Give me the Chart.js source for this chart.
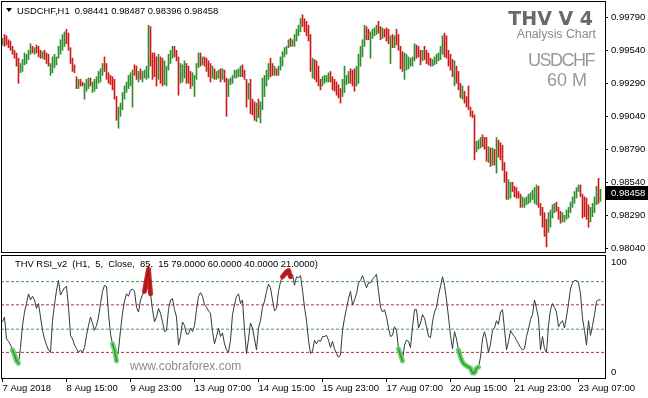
<!DOCTYPE html>
<html>
<head>
<meta charset="utf-8">
<script src="https://cdn.jsdelivr.net/npm/chart.js@4.4.1/dist/chart.umd.min.js"></script>
<style>
  html, body { margin: 0; padding: 0; background: #fff; }
  #wrap { position: relative; width: 648px; height: 398px; overflow: hidden; background: #fff;
          font-family: "Liberation Sans", Arial, sans-serif; }
  canvas { position: absolute; left: 0; }
  #cMain { top: 0; }
  #cRsi { top: 254px; }
  .txt { position: absolute; white-space: pre; line-height: 1; }
  #tri { position: absolute; left: 6px; top: 8px; width: 0; height: 0;
         border-left: 3px solid transparent; border-right: 3px solid transparent; border-top: 4px solid #000; }
</style>
</head>
<body>
<div id="wrap">
  <canvas id="cMain" width="648" height="254"></canvas>
  <canvas id="cRsi" width="648" height="144"></canvas>
  <div id="tri"></div>
  <div class="txt" id="hdr" style="left:17px; top:5.6px; font-size:9.4px; color:#000;"></div>
  <div class="txt" style="right:55px; top:8.8px; font-family:'DejaVu Sans',sans-serif; font-weight:bold; font-size:19px; color:#6a6a6a;">THV V 4</div>
  <div class="txt" style="right:52px; top:27.6px; font-size:12.3px; color:#8a8a8a;">Analysis Chart</div>
  <div class="txt" style="right:54px; top:51px; font-size:18px; letter-spacing:-1.5px; color:#999;">USDCHF</div>
  <div class="txt" style="right:61px; top:71px; font-size:18px; color:#999;">60 M</div>
  <div class="txt" id="rsiLbl" style="left:15px; top:259.3px; font-size:9.4px; color:#000;"></div>
  <div class="txt" style="left:130px; top:359.7px; font-size:12px; color:#8c8c8c;">www.cobraforex.com</div>
</div>
<script>
// USDCHF H1 bars (bar 0 = 7 Aug 2018 07:00)
const barHigh = [
0.9963,0.9966,0.9965,0.9962,0.9961,0.9957,0.9954,0.9952,0.9948,0.9944,
0.9947,0.9952,0.9951,0.9954,0.9959,0.9957,0.9956,0.9958,0.9957,0.9954,
0.9953,0.9954,0.9952,0.9951,0.9944,0.9949,0.9951,0.9949,0.9957,0.9962,
0.9966,0.9968,0.9970,0.9967,0.9956,0.9948,0.9943,0.9934,0.9932,0.9932,
0.9930,0.9929,0.9932,0.9933,0.9933,0.9930,0.9932,0.9934,0.9938,0.9940,
0.9944,0.9949,0.9944,0.9937,0.9935,0.9934,0.9932,0.9919,0.9911,0.9914,
0.9922,0.9927,0.9930,0.9935,0.9937,0.9939,0.9943,0.9942,0.9938,0.9940,
0.9938,0.9939,0.9942,0.9973,0.9972,0.9952,0.9952,0.9949,0.9951,0.9949,
0.9948,0.9946,0.9942,0.9951,0.9954,0.9957,0.9957,0.9954,0.9949,0.9944,
0.9943,0.9946,0.9944,0.9942,0.9938,0.9937,0.9935,0.9944,0.9952,0.9952,
0.9949,0.9949,0.9948,0.9946,0.9944,0.9942,0.9940,0.9938,0.9939,0.9940,
0.9940,0.9939,0.9933,0.9932,0.9933,0.9935,0.9939,0.9939,0.9940,0.9942,
0.9943,0.9939,0.9932,0.9929,0.9932,0.9917,0.9915,0.9914,0.9917,0.9915,
0.9933,0.9935,0.9939,0.9944,0.9948,0.9944,0.9942,0.9940,0.9942,0.9949,
0.9953,0.9956,0.9957,0.9962,0.9963,0.9962,0.9966,0.9970,0.9973,0.9978,
0.9981,0.9978,0.9976,0.9973,0.9966,0.9948,0.9947,0.9946,0.9942,0.9932,
0.9934,0.9935,0.9935,0.9937,0.9938,0.9934,0.9932,0.9930,0.9928,0.9925,
0.9932,0.9942,0.9935,0.9938,0.9940,0.9939,0.9940,0.9942,0.9951,0.9957,
0.9962,0.9973,0.9972,0.9970,0.9968,0.9970,0.9971,0.9973,0.9976,0.9972,
0.9971,0.9970,0.9971,0.9970,0.9965,0.9966,0.9965,0.9970,0.9966,0.9957,
0.9953,0.9952,0.9951,0.9949,0.9948,0.9949,0.9959,0.9958,0.9957,0.9954,
0.9954,0.9957,0.9954,0.9952,0.9948,0.9947,0.9949,0.9951,0.9952,0.9957,
0.9965,0.9967,0.9965,0.9954,0.9951,0.9947,0.9946,0.9942,0.9938,0.9929,
0.9927,0.9923,0.9919,0.9927,0.9911,0.9908,0.9905,0.9885,0.9886,0.9888,
0.9890,0.9888,0.9888,0.9881,0.9880,0.9880,0.9879,0.9888,0.9886,0.9884,
0.9882,0.9869,0.9862,0.9856,0.9854,0.9854,0.9851,0.9850,0.9847,0.9845,
0.9843,0.9842,0.9843,0.9845,0.9846,0.9848,0.9850,0.9852,0.9851,0.9838,
0.9835,0.9831,0.9826,0.9831,0.9833,0.9837,0.9838,0.9839,0.9835,0.9832,
0.9831,0.9829,0.9833,0.9835,0.9839,0.9843,0.9847,0.9850,0.9852,0.9852,
0.9845,0.9843,0.9842,0.9837,0.9835,0.9838,0.9843,0.9851,0.9857,0.98487];

const barLow = [
0.9958,0.9957,0.9958,0.9956,0.9954,0.9951,0.9948,0.9942,0.9929,0.9937,
0.9938,0.9943,0.9944,0.9947,0.9951,0.9952,0.9951,0.9952,0.9949,0.9948,
0.9948,0.9947,0.9944,0.9942,0.9935,0.9937,0.9941,0.9943,0.9948,0.9951,
0.9954,0.9957,0.9959,0.9954,0.9944,0.9938,0.9937,0.9925,0.9925,0.9927,
0.9927,0.9917,0.9923,0.9925,0.9927,0.9922,0.9923,0.9925,0.9929,0.9930,
0.9935,0.9938,0.9932,0.9929,0.9928,0.9924,0.9917,0.9901,0.9895,0.9904,
0.9909,0.9917,0.9922,0.9925,0.9927,0.9911,0.9935,0.9932,0.9930,0.9932,
0.9930,0.9933,0.9932,0.9933,0.9942,0.9932,0.9934,0.9927,0.9932,0.9929,
0.9927,0.9928,0.9927,0.9939,0.9944,0.9948,0.9949,0.9946,0.9920,0.9929,
0.9930,0.9933,0.9929,0.9929,0.9925,0.9927,0.9919,0.9932,0.9941,0.9942,
0.9943,0.9942,0.9938,0.9934,0.9930,0.9933,0.9932,0.9932,0.9933,0.9930,
0.9932,0.9930,0.9904,0.9919,0.9928,0.9929,0.9933,0.9933,0.9934,0.9934,
0.9934,0.9932,0.9911,0.9917,0.9906,0.9905,0.9901,0.9900,0.9903,0.9899,
0.9909,0.9919,0.9927,0.9932,0.9934,0.9935,0.9935,0.9935,0.9935,0.9939,
0.9942,0.9949,0.9951,0.9956,0.9957,0.9957,0.9957,0.9961,0.9965,0.9968,
0.9972,0.9968,0.9965,0.9961,0.9938,0.9933,0.9932,0.9930,0.9927,0.9924,
0.9927,0.9929,0.9930,0.9930,0.9930,0.9924,0.9923,0.9920,0.9918,0.9914,
0.9919,0.9922,0.9928,0.9929,0.9929,0.9927,0.9923,0.9927,0.9929,0.9942,
0.9949,0.9957,0.9962,0.9962,0.9948,0.9963,0.9965,0.9966,0.9967,0.9962,
0.9963,0.9964,0.9961,0.9959,0.9944,0.9956,0.9956,0.9958,0.9954,0.9940,
0.9938,0.9932,0.9939,0.9940,0.9942,0.9942,0.9946,0.9948,0.9949,0.9943,
0.9946,0.9947,0.9944,0.9943,0.9942,0.9942,0.9943,0.9944,0.9946,0.9947,
0.9951,0.9949,0.9948,0.9942,0.9939,0.9934,0.9927,0.9929,0.9924,0.9918,
0.9917,0.9914,0.9911,0.9909,0.9904,0.9903,0.9871,0.9877,0.9879,0.9880,
0.9881,0.9879,0.9870,0.9869,0.9866,0.9867,0.9867,0.9861,0.9873,0.9871,
0.9863,0.9854,0.9841,0.9841,0.9842,0.9847,0.9843,0.9842,0.9842,0.9835,
0.9835,0.9835,0.9837,0.9838,0.9839,0.9841,0.9838,0.9837,0.9835,0.9829,
0.9820,0.9813,0.9805,0.9816,0.9820,0.9827,0.9831,0.9832,0.9826,0.9823,
0.9824,0.9824,0.9826,0.9827,0.9831,0.9835,0.9838,0.9842,0.9847,0.9843,
0.9827,0.9828,0.9826,0.9820,0.9824,0.9828,0.9831,0.9837,0.9838,0.98396];

const barClose = [
0.9962,0.9961,0.9959,0.9957,0.9954,0.9951,0.9948,0.9942,0.9940,0.9943,
0.9947,0.9948,0.9950,0.9954,0.9955,0.9953,0.9955,0.9953,0.9951,0.9950,
0.9951,0.9948,0.9946,0.9942,0.9943,0.9946,0.9947,0.9949,0.9956,0.9960,
0.9963,0.9965,0.9961,0.9955,0.9945,0.9940,0.9937,0.9928,0.9930,0.9928,
0.9927,0.9927,0.9929,0.9930,0.9927,0.9927,0.9930,0.9933,0.9936,0.9939,
0.9943,0.9940,0.9934,0.9931,0.9929,0.9925,0.9918,0.9904,0.9908,0.9913,
0.9921,0.9926,0.9929,0.9932,0.9933,0.9938,0.9937,0.9934,0.9936,0.9934,
0.9936,0.9937,0.9940,0.9965,0.9948,0.9942,0.9940,0.9935,0.9940,0.9935,
0.9933,0.9935,0.9941,0.9949,0.9952,0.9953,0.9951,0.9948,0.9935,0.9938,
0.9938,0.9939,0.9935,0.9933,0.9929,0.9930,0.9935,0.9943,0.9948,0.9946,
0.9946,0.9944,0.9940,0.9937,0.9936,0.9936,0.9935,0.9935,0.9936,0.9935,
0.9935,0.9932,0.9925,0.9930,0.9931,0.9934,0.9936,0.9937,0.9938,0.9939,
0.9937,0.9933,0.9920,0.9922,0.9910,0.9908,0.9906,0.9908,0.9906,0.9913,
0.9930,0.9933,0.9938,0.9942,0.9940,0.9938,0.9939,0.9938,0.9941,0.9946,
0.9952,0.9954,0.9957,0.9960,0.9959,0.9961,0.9965,0.9969,0.9972,0.9977,
0.9974,0.9972,0.9967,0.9963,0.9940,0.9942,0.9940,0.9937,0.9930,0.9928,
0.9931,0.9932,0.9933,0.9935,0.9932,0.9927,0.9926,0.9923,0.9921,0.9920,
0.9929,0.9932,0.9933,0.9935,0.9934,0.9932,0.9930,0.9940,0.9950,0.9955,
0.9960,0.9968,0.9966,0.9965,0.9968,0.9969,0.9970,0.9972,0.9968,0.9966,
0.9967,0.9966,0.9964,0.9962,0.9963,0.9962,0.9963,0.9962,0.9955,0.9946,
0.9943,0.9944,0.9944,0.9945,0.9945,0.9948,0.9954,0.9953,0.9951,0.9948,
0.9952,0.9950,0.9947,0.9945,0.9944,0.9946,0.9947,0.9949,0.9951,0.9955,
0.9960,0.9957,0.9950,0.9946,0.9941,0.9937,0.9938,0.9934,0.9926,0.9920,
0.9920,0.9916,0.9914,0.9910,0.9906,0.9904,0.9880,0.9882,0.9884,0.9886,
0.9884,0.9882,0.9874,0.9874,0.9872,0.9873,0.9870,0.9882,0.9878,0.9876,
0.9866,0.9858,0.9845,0.9848,0.9850,0.9849,0.9847,0.9845,0.9843,0.9838,
0.9838,0.9839,0.9841,0.9842,0.9844,0.9846,0.9847,0.9848,0.9838,0.9833,
0.9824,0.9818,0.9815,0.9826,0.9830,0.9834,0.9836,0.9834,0.9829,0.9827,
0.9827,0.9829,0.9831,0.9833,0.9837,0.9841,0.9845,0.9848,0.9849,0.9846,
0.9835,0.9833,0.9829,0.9826,0.9830,0.9834,0.9840,0.9848,0.98441,0.98458];

const firstOpen = 0.9960;

// THV RSI_v2 (period 5) per bar
const rsiValues = [
46,50,32,30,27,23,19,14,12,25, 43,54,61,69,64,67,64,57,61,50,
39,32,27,23,21,47,60,72,80,68, 71,74,75,58,35,32,27,24,21,23,
21,25,35,43,50,45,39,43,50,61, 71,76,75,53,36,28,23,14,23,39,
53,63,69,67,72,73,71,58,54,64, 68,71,80,89,69,56,46,50,57,53,
46,38,39,56,64,65,56,50,27,34, 46,43,36,36,41,38,43,56,67,70,
67,60,58,55,53,38,28,34,41,34, 37,28,23,21,31,52,60,67,69,61,
64,39,20,32,45,41,32,23,41,47, 58,63,71,77,74,64,55,57,71,79,
83,85,87,88,83,85,76,83,82,84, 72,58,47,31,20,22,31,28,31,30,
34,34,35,31,25,30,24,20,17,19, 39,49,57,65,71,60,64,69,78,80,
84,79,74,78,78,81,83,85,71,58, 54,56,50,41,34,35,42,39,24,19,
14,27,31,30,25,42,56,56,41,45, 52,49,42,34,33,46,54,58,68,75,
83,76,64,50,35,24,38,32,23,17, 13,11,10,9,8,4,4,8,9,17,
32,38,31,21,28,39,41,47,44,54, 56,40,23,30,39,36,34,31,28,25,
23,24,34,40,48,52,64,57,49,23, 34,24,21,43,56,61,58,54,42,45,
47,41,50,61,73,78,80,80,78,69, 49,39,27,47,35,43,52,63,64,64];

const rsiLevels = [79, 60, 40, 21];
const overboughtRanges = [[71, 74], [140, 144]];
const oversoldRanges = [[5, 8], [55, 57], [198, 200], [228, 238]];

const priceTicks = [0.9979, 0.9954, 0.9929, 0.9904, 0.9879, 0.9854, 0.9829, 0.9804];
const rsiAxisLabels = [100, 0];
const timeTickIndex = [0, 32, 64, 96, 128, 160, 192, 224, 256, 288];
const timeTickLabels = ["7 Aug 2018", "8 Aug 15:00", "9 Aug 23:00", "13 Aug 07:00", "14 Aug 15:00",
                        "15 Aug 23:00", "17 Aug 07:00", "20 Aug 15:00", "21 Aug 23:00", "23 Aug 07:00"];

const priceMin = 0.98012, priceMax = 0.99906;
const xMin = -0.75, xMax = 301.25;
const AXIS_FONT = { family: '"Liberation Sans", Arial, sans-serif', size: 9.5 };

Chart.defaults.font.family = AXIS_FONT.family;
Chart.defaults.font.size = AXIS_FONT.size;
Chart.defaults.color = "#000";

const opens = barClose.map((c, i) => (i === 0 ? firstOpen : barClose[i - 1]));
const last = barClose.length - 1;

document.getElementById("hdr").textContent =
  `USDCHF,H1  ${opens[last].toFixed(5)} ${barHigh[last].toFixed(5)} ${barLow[last].toFixed(5)} ${barClose[last].toFixed(5)}`;
document.getElementById("rsiLbl").textContent =
  `THV RSI_v2  (H1,  5,  Close,  85,  15 ${rsiLevels.map((v) => v.toFixed(4)).join(" ")})`;

const panelFrame = {
  id: "panelFrame",
  afterDraw(chart) {
    const { ctx, chartArea: a } = chart;
    ctx.save();
    ctx.strokeStyle = "#000";
    ctx.lineWidth = 1;
    ctx.strokeRect(a.left + 0.5, a.top - 0.5, a.right - a.left, a.bottom - a.top + 1);
    ctx.restore();
  }
};

const lastPriceBox = {
  id: "lastPriceBox",
  afterDraw(chart) {
    const { ctx, chartArea: a } = chart;
    const y = Math.round(chart.scales.y.getPixelForValue(barClose[last]));
    ctx.save();
    ctx.fillStyle = "#000";
    ctx.fillRect(a.right + 1, y - 7, 43, 14);
    ctx.fillStyle = "#fff";
    ctx.font = `${AXIS_FONT.size}px ${AXIS_FONT.family}`;
    ctx.textBaseline = "middle";
    ctx.fillText(barClose[last].toFixed(5), a.right + 6, y + 0.5);
    ctx.restore();
  }
};

const rsiAxisText = {
  id: "rsiAxisText",
  afterDraw(chart) {
    const { ctx, chartArea: a } = chart;
    const ys = chart.scales.y;
    ctx.save();
    ctx.fillStyle = "#000";
    ctx.font = `${AXIS_FONT.size}px ${AXIS_FONT.family}`;
    ctx.textBaseline = "middle";
    for (const v of rsiAxisLabels) {
      const py = ys.getPixelForValue(v) + (v >= 50 ? 6 : -6);
      ctx.fillText(String(v), a.right + 6, py);
    }
    ctx.restore();
  }
};

// main price panel
new Chart(document.getElementById("cMain"), {
  type: "bar",
  data: {
    datasets: [{
      data: barLow.map((lo, i) => ({ x: i, y: [lo, barHigh[i]] })),
      backgroundColor: barClose.map((c, i) => (c >= opens[i] ? "#2f8f2f" : "#cc1a1a")),
      borderWidth: 0,
      barThickness: 1
    }]
  },
  options: {
    responsive: false,
    animation: false,
    devicePixelRatio: 1,
    layout: { padding: { left: 1, top: 2, right: 0, bottom: 2 } },
    plugins: { legend: { display: false }, tooltip: { enabled: false } },
    scales: {
      x: { type: "linear", min: xMin, max: xMax, offset: false, display: false,
           grid: { offset: false } },
      y: {
        position: "right",
        min: priceMin,
        max: priceMax,
        afterBuildTicks: (s) => { s.ticks = priceTicks.map((v) => ({ value: v })); },
        afterFit: (s) => { s.width = 43; s.paddingTop = 0; s.paddingBottom = 0; },
        ticks: { callback: (v) => Number(v).toFixed(5), padding: 3, color: "#000" },
        grid: { drawOnChartArea: false, drawTicks: true, tickLength: 3, color: "#000" },
        border: { display: false }
      }
    }
  },
  plugins: [panelFrame, lastPriceBox]
});

// RSI panel
const pick = (ranges) => rsiValues.map((v, i) =>
  ({ x: i, y: ranges.some(([a, b]) => i >= a && i <= b) ? v : null }));

const levelColors = ["#4a9a4a", "#a83a3a", "#4a9a4a", "#a83a3a"];
const rsiSets = rsiLevels.map((lv, k) => ({
  data: [{ x: xMin, y: lv }, { x: xMax, y: lv }],
  borderColor: levelColors[k], borderWidth: 1, borderDash: [3, 2], pointRadius: 0, order: 4
}));
rsiSets.push({
  data: rsiValues.map((v, i) => ({ x: i, y: v })),
  borderColor: "#2f3b3b", borderWidth: 1, pointRadius: 0, order: 3
});
rsiSets.push({
  data: pick(oversoldRanges), borderColor: "#6fd46f", borderWidth: 5, pointRadius: 0,
  borderCapStyle: "round", borderJoinStyle: "round", spanGaps: false, order: 2
});
rsiSets.push({
  data: pick(oversoldRanges), borderColor: "#2e9a2e", borderWidth: 1.5, pointRadius: 0,
  borderCapStyle: "round", spanGaps: false, order: 1
});
rsiSets.push({
  data: pick(overboughtRanges), borderColor: "#c42424", borderWidth: 5, pointRadius: 0,
  borderCapStyle: "round", borderJoinStyle: "round", spanGaps: false, order: 2
});
rsiSets.push({
  data: pick(overboughtRanges), borderColor: "#a81414", borderWidth: 1.5, pointRadius: 0,
  borderCapStyle: "round", spanGaps: false, order: 1
});

new Chart(document.getElementById("cRsi"), {
  type: "line",
  data: { datasets: rsiSets },
  options: {
    responsive: false,
    animation: false,
    devicePixelRatio: 1,
    layout: { padding: { left: 1, top: 2, right: 0, bottom: 0 } },
    plugins: { legend: { display: false }, tooltip: { enabled: false } },
    elements: { line: { tension: 0 } },
    scales: {
      x: {
        type: "linear", min: xMin, max: xMax, position: "bottom",
        afterBuildTicks: (s) => { s.ticks = timeTickIndex.map((v) => ({ value: v })); },
        afterFit: (s) => { s.height = 20; s.paddingLeft = 0; s.paddingRight = 0; },
        ticks: { callback: (v, i) => timeTickLabels[i], align: "start", autoSkip: false,
                 maxRotation: 0, padding: 1, color: "#000" },
        grid: { drawOnChartArea: false, drawTicks: true, tickLength: 4, color: "#000" },
        border: { display: false }
      },
      y: {
        position: "right", min: 0, max: 100,
        afterFit: (s) => { s.width = 43; s.paddingTop = 0; s.paddingBottom = 0; },
        ticks: { display: false },
        grid: { display: false },
        border: { display: false }
      }
    }
  },
  plugins: [panelFrame, rsiAxisText]
});
</script>
</body>
</html>
